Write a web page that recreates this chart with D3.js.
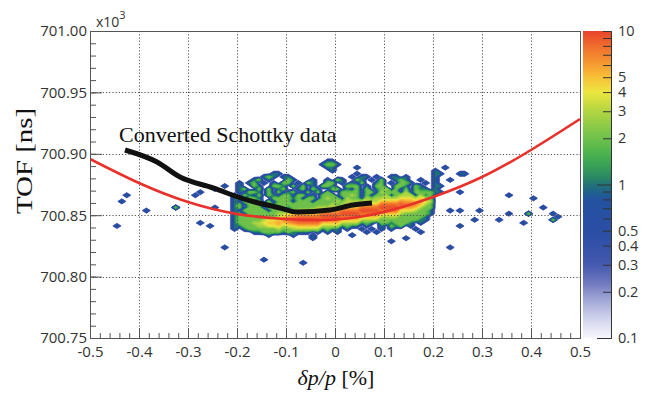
<!DOCTYPE html>
<html>
<head>
<meta charset="utf-8">
<script src="https://cdn.jsdelivr.net/npm/d3@7"></script>
<style>
  body { margin: 0; background: #fff; }
  svg { display: block; }
  text { font-family: "Open Sans", sans-serif; }
</style>
</head>
<body>
<div id="chart"></div>
<script>
const width = 651;
const height = 394;

// axis ticks
const xTicks = [-0.5, -0.4, -0.3, -0.2, -0.1, 0, 0.1, 0.2, 0.3, 0.4, 0.5];
const xTickLabels = ["-0.5", "-0.4", "-0.3", "-0.2", "-0.1", "0", "0.1", "0.2", "0.3", "0.4", "0.5"];
const yTicks = [700.75, 700.8, 700.85, 700.9, 700.95, 701.0];
const yTickLabels = ["700.75", "700.80", "700.85", "700.90", "700.95", "701.00"];
const zTicks = [0.1, 0.2, 0.3, 0.4, 0.5, 1, 2, 3, 4, 5, 10];

// fitted curve (red)
const fitDp = [-0.5, -0.4, -0.3, -0.2, -0.1, 0, 0.1, 0.2, 0.3, 0.4, 0.5];
const fitTof = [700.8958, 700.8762, 700.8607, 700.8510, 700.8469, 700.8465, 700.8526, 700.8648, 700.8811, 700.9031, 700.9283];

// converted Schottky data (black)
const schDp = [-0.4286, -0.3633, -0.3163, -0.249, -0.1796, -0.1122, -0.0776, -0.0102, 0.0367, 0.0755];
const schTof = [700.9031, 700.8933, 700.8811, 700.8722, 700.8624, 700.8559, 700.8526, 700.8542, 700.8583, 700.8599];

// binning of the 2D histogram
const binDp = 0.01;
const binTof = 0.0025;

// isolated bins
const dotDp = [-0.425, -0.435, -0.385, -0.445, -0.325, -0.285, -0.275, -0.245, -0.245, -0.275, -0.255, -0.225, -0.225,
  -0.145, -0.065, 0.115, 0.235, 0.285, 0.255, 0.255, 0.295, 0.255, 0.255, 0.265,
  0.355, 0.405, 0.425, 0.355, 0.395, 0.445, 0.455, 0.335, 0.385, 0.445];
const dotTof = [700.8663, 700.8613, 700.8538, 700.8413, 700.8563, 700.8663, 700.8688, 700.8713, 700.8563, 700.8438, 700.8413, 700.8738, 700.8238,
  700.8138, 700.8113, 700.8288, 700.8238, 700.8463, 700.8538, 700.8688, 700.8538, 700.8413, 700.8838, 700.8838,
  700.8663, 700.8638, 700.8563, 700.8513, 700.8513, 700.8513, 700.8488, 700.8463, 700.8438, 700.8463];
const dotCount = [1, 1, 1, 1, 2, 1, 1, 1, 1, 1, 1, 1, 1,
  1, 1, 1, 1, 1, 1, 1, 1, 1, 1, 1,
  1, 1, 1, 1, 2, 1, 1, 1, 1, 2];

// dense part: one string per bin row, "." = 0, "a" = 10
const blobDp0 = -0.21;
const blobTof0 = 700.895;
const blobRows = [
  "..... ..... ..... ....1 1.... ..... ..... ..... .....",
  "..... ..... ..... ...12 21... ..... ..... ..... .....",
  "..... ..... ..... ....1 1.... 1.... ..... ..... ...1.",
  "..... ..... ..... ..... 1.... ..... ..... ..... .1...",
  "..... ...11 ..... ..... ..... 1.... ..... ..... .11..",
  "..... .121. 11... ..... ....1 .11.1 ..11. 1.... .1...",
  "....1 2.1.. .21.. .1..1 .21.. 21.1. 2..12 1..1. .1..1",
  ".1.12 .1.1. 22.1. 21..2 2.1.1 .2..1 2.1.2 21..1 .1...",
  ".1..2 1..22 1.2.2 .1.22 1..22 2.1.2 2..22 1.21. .11..",
  ".12.. 2.2.1 2..12 .21.. 22.1. 2.2.1 23.2. 2.211 .1...",
  ".1.22 1.2.2 .12.. 2.2.2 ..222 2.22. 3222. 3.222 211..",
  "1.21. 2.21. 22.22 .1.22 2.223 2.2.2 23.23 33.31 2....",
  "12.22 1..22 2212. 22.23 22.32 2.323 33334 44353 2....",
  "1.221 2.2.2 22.22 2.222 23233 33333 55557 66564 3....",
  "12.22 2.212 22222 22222 32333 35555 88889 88753 2....",
  "12.22 2.222 21222 22333 33555 58888 aaaa7 66532 2....",
  "1.222 22.22 22233 34455 55888 8aaaa 88884 44322 1...1",
  "12.22 22223 34455 55588 88aaa a8888 55553 22222 1....",
  "12222 22223 56788 888aa aa888 85555 33332 22221 .....",
  "12222 23445 789aa aaa88 88555 53333 22222 22211 .....",
  "12223 34556 56788 88855 55333 3121. 22122 21.1. .....",
  "11222 33445 34455 55533 33121 1.1.. 1.212 .1... .....",
  "1.122 22223 22333 33312 11.1. .1.1. 1.1.. ..1.. .....",
  "....1 12222 12111 1.1.1 .1... ..1.1 ..... ...1. .....",
  "..... ..1.. ..1.. .1... ....1 ..... ..... ..... .....",
  "..... ..... ..... .1... ..... ..... ..... 1.... ....."
];

// colour palette (position on the log z axis, 0 = 0.1, 1 = 10)
const paletteT = [0, 0.06, 0.125, 0.18, 0.24, 0.34, 0.45, 0.49, 0.525, 0.59, 0.67, 0.75, 0.80, 0.85, 0.905, 0.955, 1];
const paletteColors = ["#f6f6fb", "#d4d6ee", "#a0a6d6", "#6f78be", "#4258ae", "#2c4ea6", "#2352a0", "#1e6a80",
  "#2a8a62", "#44b04e", "#7cc64a", "#bcd840", "#ece640", "#f8c038", "#f59030", "#ef6a2e", "#e8432a"];

const plot = { left: 90, right: 580, top: 31, bottom: 338 };
const bar = { left: 583, right: 611 };

const x = d3.scaleLinear().domain([-0.5, 0.5]).range([plot.left, plot.right]);
const y = d3.scaleLinear().domain([700.75, 701.0]).range([plot.bottom, plot.top]);
const z = d3.scaleLog().domain([0.1, 10]).range([plot.bottom, plot.top]);
const zT = d3.scaleLog().domain([0.1, 10]).range([0, 1]).clamp(true);
const pal = d3.scaleLinear().domain(paletteT).range(paletteColors);
const color = (v) => pal(zT(v));

const svg = d3.select("#chart").append("svg").attr("width", width).attr("height", height);

svg.append("clipPath").attr("id", "clip")
  .append("rect")
  .attr("x", plot.left).attr("y", plot.top)
  .attr("width", plot.right - plot.left).attr("height", plot.bottom - plot.top);

// fill the histogram grid
const nx = Math.round(1 / binDp);
const ny = Math.round(0.25 / binTof);
const values = new Array(nx * ny).fill(0);

const col0 = Math.round((blobDp0 + 0.5) / binDp);
const row0 = Math.round((701 - blobTof0) / binTof);
blobRows.forEach((s, r) => {
  const row = s.replace(/ /g, "");
  for (let i = 0; i < row.length; i++) {
    const ch = row[i];
    const v = ch === "." ? 0 : ch === "a" ? 10 : +ch;
    values[(row0 + r) * nx + col0 + i] += v;
  }
});
dotDp.forEach((d, k) => {
  const c = Math.floor((d + 0.5) / binDp);
  const r = Math.floor((701 - dotTof[k]) / binTof);
  values[r * nx + c] += dotCount[k];
});

const levels = d3.range(0, 61).map((k) => Math.pow(10, -1 + (2 * k) / 60));
const contours = d3.contours().size([nx, ny]).thresholds(levels)(values);

const gridProj = d3.geoTransform({
  point: function (gx, gy) {
    this.stream.point(x(-0.5 + gx * binDp), y(701 - gy * binTof));
  }
});
const contourPath = d3.geoPath(gridProj);

svg.append("g")
  .attr("clip-path", "url(#clip)")
  .selectAll("path")
  .data(contours)
  .join("path")
  .attr("d", contourPath)
  .attr("fill", (d) => color(d.value))
  .attr("stroke", (d) => color(d.value))
  .attr("stroke-width", 0.3);

// dotted grid
const grid = svg.append("g").attr("stroke", "#555").attr("stroke-width", 1).attr("stroke-dasharray", "1.2,2");
grid.selectAll("line.v")
  .data(xTicks.slice(1, -1))
  .join("line")
  .attr("class", "v")
  .attr("x1", (d) => Math.round(x(d)) + 0.5).attr("x2", (d) => Math.round(x(d)) + 0.5)
  .attr("y1", plot.top).attr("y2", plot.bottom);
grid.selectAll("line.h")
  .data(yTicks.slice(1, -1))
  .join("line")
  .attr("class", "h")
  .attr("x1", plot.left).attr("x2", plot.right)
  .attr("y1", (d) => Math.round(y(d)) + 0.5).attr("y2", (d) => Math.round(y(d)) + 0.5);

// fitted curve and Schottky data
svg.append("path")
  .datum(fitDp.map((d, i) => [d, fitTof[i]]))
  .attr("clip-path", "url(#clip)")
  .attr("d", d3.line().x((d) => x(d[0])).y((d) => y(d[1])).curve(d3.curveNatural))
  .attr("fill", "none")
  .attr("stroke", "#e8312a")
  .attr("stroke-width", 2.6);

svg.append("path")
  .datum(schDp.map((d, i) => [d, schTof[i]]))
  .attr("d", d3.line().x((d) => x(d[0])).y((d) => y(d[1])).curve(d3.curveMonotoneX))
  .attr("fill", "none")
  .attr("stroke", "#111")
  .attr("stroke-width", 5);

// frame
svg.append("rect")
  .attr("x", plot.left + 0.5).attr("y", plot.top + 0.5)
  .attr("width", plot.right - plot.left).attr("height", plot.bottom - plot.top)
  .attr("fill", "none").attr("stroke", "#555");

// axes
const xMinor = d3.range(-50, 51, 2).map((d) => d / 100);
const yMinor = d3.range(70075, 70101, 1).map((d) => d / 100);

const styleAxis = (g) => {
  g.select(".domain").remove();
  g.selectAll(".tick line").attr("stroke", "#555");
  g.selectAll(".tick text").attr("fill", "#333").style("font-size", "15px");
};

svg.append("g")
  .attr("transform", `translate(0,${plot.bottom})`)
  .call(d3.axisBottom(x).tickValues(xMinor).tickSize(-5).tickFormat(""))
  .call(styleAxis);
svg.append("g")
  .attr("transform", `translate(0,${plot.bottom})`)
  .call(d3.axisBottom(x).tickValues(xTicks).tickSize(-10).tickPadding(8).tickFormat((d, i) => xTickLabels[i]))
  .call(styleAxis);

svg.append("g")
  .attr("transform", `translate(${plot.left},0)`)
  .call(d3.axisLeft(y).tickValues(yMinor).tickSize(-6).tickFormat(""))
  .call(styleAxis);
svg.append("g")
  .attr("transform", `translate(${plot.left},0)`)
  .call(d3.axisLeft(y).tickValues(yTicks).tickSize(-12).tickPadding(3).tickFormat((d, i) => yTickLabels[i]))
  .call(styleAxis);

// colour bar
const grad = svg.append("defs").append("linearGradient")
  .attr("id", "zgrad").attr("x1", 0).attr("y1", 0).attr("x2", 0).attr("y2", 1);
d3.range(0, 41).forEach((k) => {
  const t = k / 40;
  grad.append("stop").attr("offset", t).attr("stop-color", pal(1 - t));
});
svg.append("rect")
  .attr("x", bar.left).attr("y", plot.top)
  .attr("width", bar.right - bar.left).attr("height", plot.bottom - plot.top)
  .attr("fill", "url(#zgrad)");

const zMinor = [0.2, 0.3, 0.4, 0.5, 0.6, 0.7, 0.8, 0.9, 2, 3, 4, 5, 6, 7, 8, 9, 10];
const zg = svg.append("g").attr("transform", `translate(${bar.right},0)`);
zg.append("g").call(d3.axisRight(z).tickValues(zMinor).tickSize(-8).tickSizeOuter(0).tickFormat(""));
zg.append("g").call(d3.axisRight(z).tickValues([0.1, 1]).tickSize(-14).tickSizeOuter(0).tickFormat(""));
zg.append("g").call(d3.axisRight(z).tickValues(zTicks).tickSize(0).tickSizeOuter(0).tickPadding(7).tickFormat((d) => String(d)));
zg.selectAll(".domain").attr("stroke", "#333");
zg.selectAll(".tick line").attr("stroke", "#333");
zg.selectAll(".tick text").attr("fill", "#333").style("font-size", "14.5px");

// exponent label
const expo = svg.append("text").attr("x", 96).attr("y", 27).attr("fill", "#333").style("font-size", "14px");
expo.append("tspan").text("x10");
expo.append("tspan").attr("dy", -8).style("font-size", "11px").text("3");

// titles
svg.append("text")
  .attr("transform", "translate(32,161) rotate(-90)")
  .attr("text-anchor", "middle")
  .attr("textLength", 106)
  .attr("lengthAdjust", "spacingAndGlyphs")
  .style("font-family", "'Liberation Serif', serif")
  .style("font-size", "23px")
  .attr("fill", "#111")
  .text("TOF [ns]");

const xt = svg.append("text")
  .attr("x", 336).attr("y", 385)
  .attr("text-anchor", "middle")
  .style("font-family", "'Liberation Serif', serif")
  .style("font-size", "22px")
  .attr("fill", "#111");
xt.append("tspan").style("font-style", "italic").text("δp/p");
xt.append("tspan").text(" [%]");

svg.append("text")
  .attr("x", 119).attr("y", 142)
  .style("font-family", "'Liberation Serif', serif")
  .style("font-size", "22px")
  .attr("fill", "#111")
  .text("Converted Schottky data");
</script>
</body>
</html>
